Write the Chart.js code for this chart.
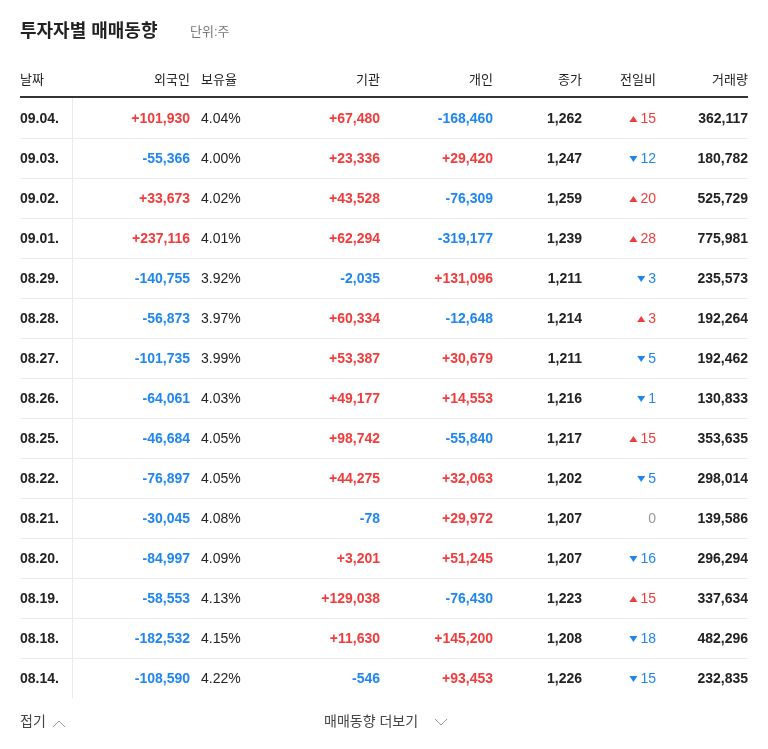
<!DOCTYPE html>
<html><head><meta charset="utf-8">
<script src="https://cdn.jsdelivr.net/npm/chart.js@4"></script>
<style>html,body{margin:0;padding:0;background:#fff}#wrap{width:768px;height:749px}</style>
</head><body><div id="wrap"><canvas id="trade"></canvas></div>
<script>
// 투자자별 매매동향
const dates = ['09.04.','09.03.','09.02.','09.01.','08.29.','08.28.','08.27.','08.26.','08.25.','08.22.','08.21.','08.20.','08.19.','08.18.','08.14.'];
const foreign = [101930,-55366,33673,237116,-140755,-56873,-101735,-64061,-46684,-76897,-30045,-84997,-58553,-182532,-108590];
const holdRate = [4.04,4.00,4.02,4.01,3.92,3.97,3.99,4.03,4.05,4.05,4.08,4.09,4.13,4.15,4.22];
const inst = [67480,23336,43528,62294,-2035,60334,53387,49177,98742,44275,-78,3201,129038,11630,-546];
const indiv = [-168460,29420,-76309,-319177,131096,-12648,30679,14553,-55840,32063,29972,51245,-76430,145200,93453];
const close = [1262,1247,1259,1239,1211,1214,1211,1216,1217,1202,1207,1207,1223,1208,1226];
const change = [15,-12,20,28,-3,3,-5,-1,15,-5,0,-16,15,-18,-15];
const volume = [362117,180782,525729,775981,235573,192264,192462,130833,353635,298014,139586,296294,337634,482296,232835];
const headers = ['날짜','외국인','보유율','기관','개인','종가','전일비','거래량'];

const RED = '#f23b3b', BLUE = '#1f86f0', DARK = '#222';
const FONT = '"Liberation Sans","Noto Sans CJK KR",Arial,sans-serif';
const fmt = n => n.toLocaleString('en-US');
const signed = n => (n > 0 ? '+' : '') + fmt(n);
const col = n => n > 0 ? RED : (n < 0 ? BLUE : '#999');

const tablePlugin = {
  id: 'tableText',
  afterDraw(chart) {
    const c = chart.ctx, x = chart.scales.x, y = chart.scales.y;
    const X = v => x.getPixelForValue(v);
    c.save();
    c.textBaseline = 'middle';
    // title
    c.fillStyle = DARK; c.textAlign = 'left';
    c.font = 'bold 18px ' + FONT; c.fillText('투자자별 매매동향', 20, 32);
    c.fillStyle = '#777'; c.font = '13px ' + FONT; c.fillText('단위:주', 190, 32);
    // header
    const hx = [[20,'left'],[190,'right'],[201,'left'],[380,'right'],[493,'right'],[582,'right'],[656,'right'],[748,'right']];
    c.font = '13px ' + FONT; c.fillStyle = DARK;
    headers.forEach((h, i) => { c.textAlign = hx[i][1]; c.fillText(h, X(hx[i][0]), 80); });
    const top = y.top, bot = y.bottom, step = (bot - top) / dates.length;
    c.fillStyle = '#333'; c.fillRect(X(20), top - 2, X(748) - X(20), 2);
    c.fillStyle = '#ebebeb';
    for (let i = 1; i < dates.length; i++) c.fillRect(X(20), top + i * step, X(748) - X(20), 1);
    c.fillRect(X(72), top, 1, bot - top);
    dates.forEach((d, i) => {
      const py = y.getPixelForValue(i) + 1;
      c.font = 'bold 14px ' + FONT;
      c.textAlign = 'left'; c.fillStyle = DARK; c.fillText(d, X(20), py);
      c.textAlign = 'right';
      c.fillStyle = col(foreign[i]); c.fillText(signed(foreign[i]), X(190), py);
      c.fillStyle = col(inst[i]); c.fillText(signed(inst[i]), X(380), py);
      c.fillStyle = col(indiv[i]); c.fillText(signed(indiv[i]), X(493), py);
      c.fillStyle = DARK; c.fillText(fmt(close[i]), X(582), py);
      c.fillText(fmt(volume[i]), X(748), py);
      c.font = '14px ' + FONT;
      c.textAlign = 'left'; c.fillText(holdRate[i].toFixed(2) + '%', X(201), py);
      c.textAlign = 'right'; c.fillStyle = col(change[i]);
      const t = String(Math.abs(change[i]));
      c.fillText(t, X(656), py);
      if (change[i] !== 0) {
        const w = c.measureText(t).width, ax = X(656) - w - 7;
        c.beginPath();
        if (change[i] > 0) { c.moveTo(ax - 4, py + 3); c.lineTo(ax + 4, py + 3); c.lineTo(ax, py - 3); }
        else { c.moveTo(ax - 4, py - 3); c.lineTo(ax + 4, py - 3); c.lineTo(ax, py + 3); }
        c.fill();
      }
    });
    // footer
    c.fillStyle = '#444'; c.font = '14px ' + FONT; c.textAlign = 'left';
    c.fillText('접기', 20, 722);
    c.fillText('매매동향 더보기', 324, 722);
    c.strokeStyle = '#999'; c.lineWidth = 1;
    c.beginPath(); c.moveTo(53, 727); c.lineTo(59, 721); c.lineTo(65, 727); c.stroke();
    c.beginPath(); c.moveTo(435, 719); c.lineTo(441, 725); c.lineTo(447, 719); c.stroke();
    c.restore();
  }
};

new Chart(document.getElementById('trade'), {
  type: 'scatter',
  data: { labels: dates, datasets: [{ data: dates.map((d, i) => ({ x: 0, y: i })), pointRadius: 0 }] },
  options: {
    responsive: true, maintainAspectRatio: false, animation: false,
    layout: { padding: { top: 98, bottom: 51, left: 0, right: 0 } },
    plugins: { legend: { display: false }, tooltip: { enabled: false } },
    scales: {
      x: { type: 'linear', min: 0, max: 768, display: false },
      y: { type: 'category', labels: dates, offset: true, display: false }
    }
  },
  plugins: [tablePlugin]
});
</script></body></html>
